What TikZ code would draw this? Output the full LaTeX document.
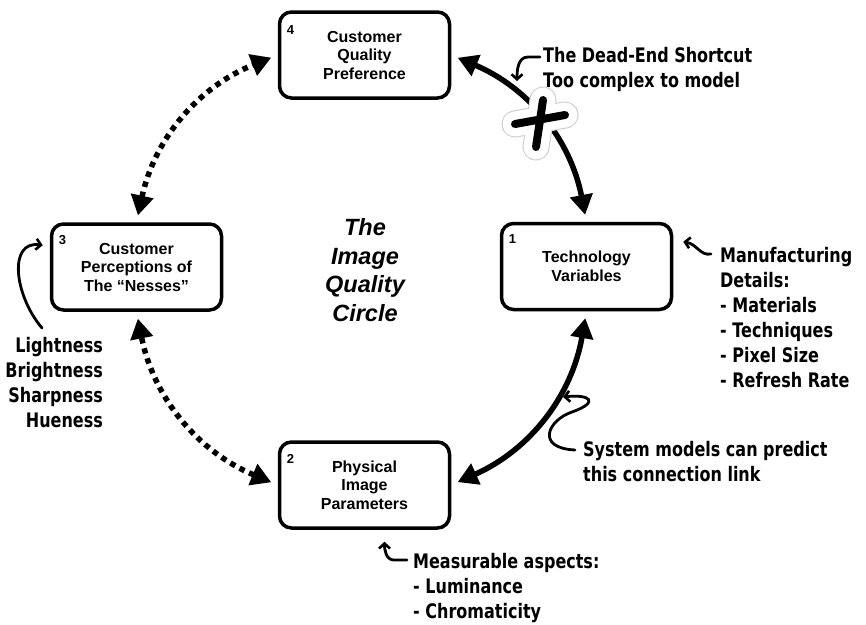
\documentclass[tikz,border=0pt]{standalone}
\usepackage{fontspec}
\setsansfont{Liberation Sans}
\newfontfamily\handfont[FakeStretch=0.8]{DejaVu Sans}
\usetikzlibrary{arrows.meta}

\begin{document}
\begin{tikzpicture}[
        x = 1pt, y = 1pt,
        box/.style = {
            draw,
            line width = 3.5pt,
            rounded corners = 12pt,
            minimum width = 170pt,
            minimum height = 86pt,
            align = center,
            font = \sffamily\bfseries\fontsize{16}{18.5}\selectfont
        },
        num/.style = {anchor = north west, inner sep = 0pt, font = \sffamily\bfseries\fontsize{13}{13}\selectfont},
        note/.style = {inner sep = 0pt, font = \handfont\bfseries\fontsize{20}{25}\selectfont},
        link/.style = {
            line width = 5.5pt,
            {Triangle[length=20pt,width=22pt]}-{Triangle[length=20pt,width=22pt]},
            shorten <= 7pt,
            shorten >= 7pt
        },
        dotlink/.style = {link, dash pattern = on 5.5pt off 5pt},
        hook/.style = {line width = 2.8pt, line cap = round, -{Straight Barb[length=5pt,width=11pt,line width=2.6pt]}}
        ]
        \useasboundingbox (0,0) rectangle (866,-624);
%
        \node[box] (b4) at (364.5,-55) {Customer\\Quality\\Preference};
        \node[box] (b3) at (136.5,-267) {Customer\\Perceptions of\\The “Nesses”};
        \node[box] (b1) at (586.5,-266.5) {Technology\\Variables};
        \node[box] (b2) at (364.5,-485) {Physical\\Image\\Parameters};
%
        \node[num] (n4) at ([xshift=9pt,yshift=-15pt]b4.north west) {4};
        \node[num] (n3) at ([xshift=9pt,yshift=-13pt]b3.north west) {3};
        \node[num] (n1) at ([xshift=9pt,yshift=-13pt]b1.north west) {1};
        \node[num] (n2) at ([xshift=9pt,yshift=-14pt]b2.north west) {2};
%
        \node[align=center, font=\sffamily\bfseries\itshape\fontsize{23.5}{28.5}\selectfont] (iqc) at (365,-270) {The\\Image\\Quality\\Circle};
%
        \draw[link] (b4.east) to [bend left=28] (b1.north);
        \draw[link] (b1.south) to [bend left=28] (b2.east);
        \draw[dotlink] (b2.west) to [bend left=28] (b3.south);
        \draw[dotlink] (b3.north) to [bend left=28] (b4.west);
%
% the crossed out shortcut
        \coordinate (cross) at (540,-121);
        \foreach \w/\c in {27pt/gray!40, 25pt/white, 8pt/black} {
            \draw[line width=\w, \c, line cap=round] ([shift={(-25,-3)}]cross) -- ([shift={(25,6)}]cross);
            \draw[line width=\w, \c, line cap=round] ([shift={(3,21)}]cross) -- ([shift={(-4,-26)}]cross);
        }
%
% notes, placed by the baseline of their last line
        \node[note, anchor=base west, align=left] (deadend) at (543,-87) {The Dead-End Shortcut\\Too complex to model};
        \node[note, anchor=base west, align=left] (manuf) at (720,-387) {Manufacturing\\Details:\\- Materials\\- Techniques\\- Pixel Size\\- Refresh Rate};
        \node[note, anchor=base east, align=right] (nesses) at (103,-427) {Lightness\\Brightness\\Sharpness\\Hueness};
        \node[note, anchor=base west, align=left] (sysmod) at (583,-481) {System models can predict\\this connection link};
        \node[note, anchor=base west, align=left] (measure) at (413,-618) {Measurable aspects:\\- Luminance\\- Chromaticity};
%
        \coordinate (deadtip) at (517,-81);
        \coordinate (nessfoot) at (42,-328);
        \coordinate (systip) at (563,-397);
%
        \draw[hook] ([xshift=-3pt,yshift=30pt]deadend.base west) -- ++(-12,0) to [out=180,in=90] (deadtip);
        \draw[hook] ([xshift=-9pt,yshift=133pt]manuf.base west) .. controls (700,-256) and (697,-244) .. ([xshift=10pt,yshift=-20pt]b1.north east);
        \draw[hook] (nessfoot) .. controls (14,-295) and (8,-240) .. ([xshift=-7pt,yshift=-23pt]b3.north west);
        \draw[hook] ([xshift=-8pt,yshift=31pt]sysmod.base west) .. controls (535,-448) and (548,-420) .. (572,-412)
                        .. controls (600,-402) and (590,-394) .. (systip);
        \draw[hook] ([xshift=-6pt,yshift=58pt]measure.base west) -- ++(-13,0) to [out=180,in=-90] ([xshift=20pt,yshift=-12pt]b2.south);
\end{tikzpicture}
\end{document}
